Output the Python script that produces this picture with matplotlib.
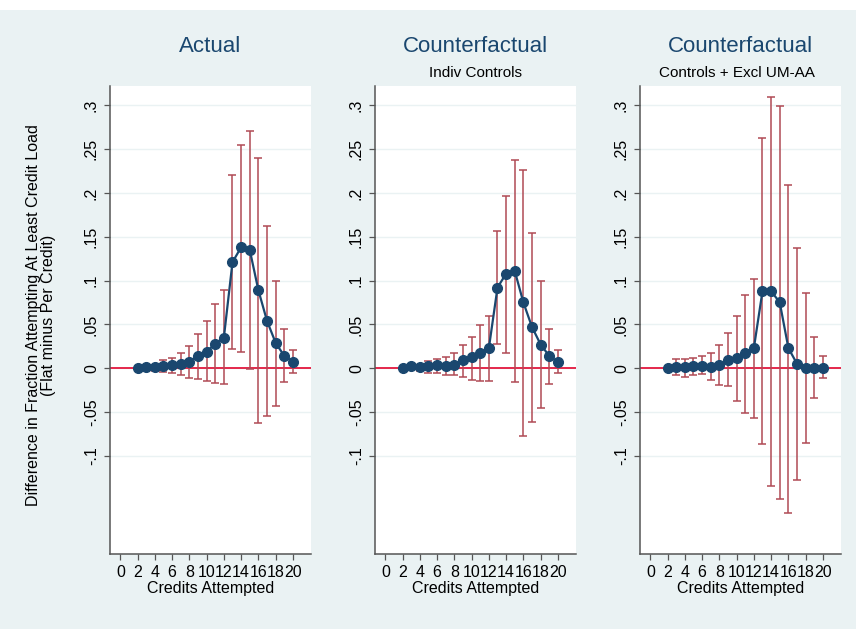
import numpy as np
import matplotlib
matplotlib.use("Agg")
import matplotlib.pyplot as plt
from matplotlib.patches import Rectangle
from matplotlib.ticker import FuncFormatter

plt.rcParams['font.family'] = ['Liberation Sans', 'DejaVu Sans']

credits = list(range(2, 21))

# panel 1: Actual
actual = [0.0, 0.0015, 0.001, 0.003, 0.004, 0.005, 0.0076, 0.014, 0.019, 0.028,
          0.035, 0.121, 0.138, 0.135, 0.089, 0.054, 0.029, 0.014, 0.0076]
actual_hi = [0.0, 0.003, 0.004, 0.0099, 0.012, 0.017, 0.025, 0.039, 0.054, 0.073,
             0.089, 0.220, 0.255, 0.271, 0.240, 0.162, 0.100, 0.045, 0.021]
actual_lo = [0.0, 0.0, -0.003, -0.004, -0.005, -0.008, -0.011, -0.012, -0.015, -0.017,
             -0.018, 0.022, 0.019, -0.001, -0.062, -0.054, -0.043, -0.016, -0.005]

# panel 2: Counterfactual, indiv controls
cf1 = [0.0, 0.002, 0.0015, 0.003, 0.0035, 0.003, 0.004, 0.009, 0.0125, 0.017,
       0.023, 0.092, 0.108, 0.111, 0.075, 0.047, 0.027, 0.014, 0.007]
cf1_hi = [0.0, 0.003, 0.003, 0.008, 0.010, 0.013, 0.017, 0.027, 0.036, 0.049,
          0.060, 0.157, 0.197, 0.238, 0.226, 0.154, 0.100, 0.045, 0.021]
cf1_lo = [0.0, 0.0, -0.003, -0.005, -0.005, -0.008, -0.008, -0.0095, -0.013, -0.015,
          -0.0145, 0.028, 0.017, -0.016, -0.077, -0.061, -0.045, -0.018, -0.005]

# panel 3: Counterfactual, controls + excl UM-AA
cf2 = [0.0, 0.0015, 0.001, 0.002, 0.003, 0.0015, 0.0035, 0.0095, 0.012, 0.017,
       0.023, 0.088, 0.088, 0.075, 0.023, 0.005, 0.0, 0.0, 0.0005]
cf2_hi = [0.0, 0.011, 0.010, 0.012, 0.014, 0.0175, 0.026, 0.040, 0.060, 0.084,
          0.102, 0.263, 0.310, 0.299, 0.209, 0.137, 0.086, 0.036, 0.0137]
cf2_lo = [0.0, -0.008, -0.010, -0.008, -0.007, -0.014, -0.019, -0.020, -0.037, -0.051,
          -0.057, -0.087, -0.134, -0.149, -0.165, -0.127, -0.085, -0.034, -0.0114]

titles = ['Actual', 'Counterfactual', 'Counterfactual']
subtitles = ['', 'Indiv Controls', 'Controls + Excl UM-AA']
panels = [(actual, actual_lo, actual_hi), (cf1, cf1_lo, cf1_hi), (cf2, cf2_lo, cf2_hi)]

bg = '#eaf2f3'
navy = '#1a476f'
cranberry = '#b04a55'

fig = plt.figure(figsize=(8.56, 6.29), dpi=100, facecolor=bg)
fig.patches.append(Rectangle((0, 1 - 10 / 629), 1, 10 / 629, transform=fig.transFigure,
                             facecolor='white', edgecolor='none', zorder=0))

W, H = 856, 629
lefts = [110, 375, 640]


def stata_fmt(v, pos):
    if abs(v) < 1e-9:
        return '0'
    s = ('%g' % round(v, 3))
    return s.replace('0.', '.')


for i, (left, (y, lo, hi)) in enumerate(zip(lefts, panels)):
    ax = fig.add_axes([left / W, (H - 554) / H, 201 / W, 468 / H])
    ax.set_facecolor('white')
    x = np.array(credits)
    y = np.array(y)
    yerr = [y - np.array(lo), np.array(hi) - y]
    ax.axhline(0, color='#e3173e', lw=1.3, zorder=2)
    ax.errorbar(x, y, yerr=yerr, fmt='none', ecolor=cranberry, elinewidth=1.1,
                capsize=2.6, capthick=1.1, zorder=3)
    ax.plot(x, y, '-o', color=navy, lw=1.6, markersize=7, zorder=4)

    ax.set_xlim(-1.2, 22.1)
    ax.set_ylim(-0.212, 0.322)
    ax.set_xticks(range(0, 21, 2))
    ax.set_yticks(np.arange(-0.1, 0.301, 0.05))
    ax.yaxis.set_major_formatter(FuncFormatter(stata_fmt))
    ax.grid(axis='y', color=bg, lw=1.0, zorder=0)
    ax.set_axisbelow(True)
    for side in ['top', 'right']:
        ax.spines[side].set_visible(False)
    for side in ['left', 'bottom']:
        ax.spines[side].set_color('#555555')
        ax.spines[side].set_linewidth(1.1)
    ax.tick_params(axis='both', direction='out', length=4.5, width=0.9,
                   color='#555555', labelsize=11.5, labelcolor='black')
    for lab in ax.get_yticklabels():
        lab.set_rotation(90)
        lab.set_va('center')
    ax.set_xlabel('Credits Attempted', fontsize=11.5, labelpad=1)

    cx = (left + 100) / W
    fig.text(cx, 1 - 46 / H, titles[i], ha='center', va='center', fontsize=16, color=navy)
    if subtitles[i]:
        fig.text(cx - 3 * (i == 2) / W, 1 - 73 / H, subtitles[i], ha='center',
                 va='center', fontsize=11, color='black')

fig.text(41 / W, 1 - 315 / H,
         'Difference in Fraction Attempting At Least Credit Load\n(Flat minus Per Credit)',
         rotation=90, ha='center', va='center', fontsize=11.5, linespacing=0.95)

fig.savefig('out.png', dpi=100, facecolor=bg)
